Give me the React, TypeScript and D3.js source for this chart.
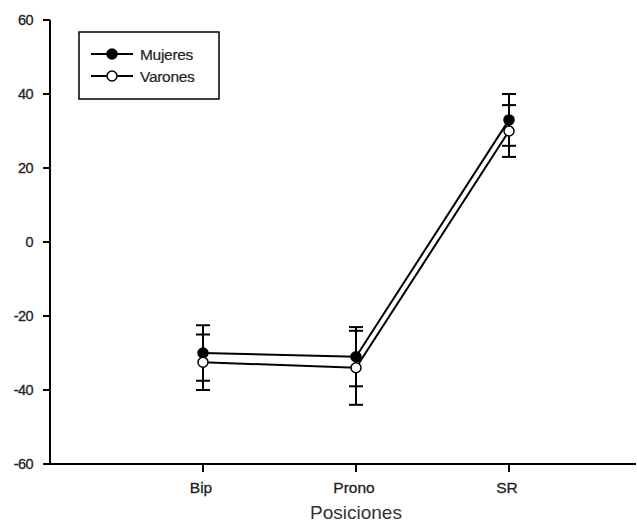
import { scaleLinear, line } from "d3";

const categories = ["Bip", "Prono", "SR"];
const yTicks = [60, 40, 20, 0, -20, -40, -60];

const mujeresMean = [-30, -31, 33];
const mujeresErr = [7.5, 8, 7];
const varonesMean = [-32.5, -34, 30];
const varonesErr = [7.5, 10, 7];

const seriesNames = ["Mujeres", "Varones"];

const W = 637;
const H = 532;
const font = "'Liberation Sans', Arial, sans-serif";

export default function App() {
  const x = scaleLinear().domain([0, 3.83]).range([50, 636]);
  const y = scaleLinear().domain([-60, 60]).range([464, 20]);

  const series = [
    { name: seriesNames[0], mean: mujeresMean, err: mujeresErr, fill: "#000" },
    { name: seriesNames[1], mean: varonesMean, err: varonesErr, fill: "#fff" },
  ];

  const path = line<number>()
    .x((_, i) => x(i + 1))
    .y((d) => y(d));

  return (
    <svg
      width={W}
      height={H}
      style={{ position: "absolute", left: 0, top: 0, background: "#fff" }}
      fontFamily={font}
    >
      {/* y axis */}
      <line x1={50} x2={50} y1={y(60)} y2={y(-60)} stroke="#000" strokeWidth={2} />
      {yTicks.map((t) => (
        <g key={t}>
          <line x1={43} x2={50} y1={y(t)} y2={y(t)} stroke="#000" strokeWidth={2} />
          <text
            x={33}
            y={y(t) + 5}
            textAnchor="end"
            fontSize={14.5}
            letterSpacing={-0.6}
            fill="#222"
            stroke="#222"
            strokeWidth={0.3}
          >
            {t}
          </text>
        </g>
      ))}

      {/* x axis */}
      <line x1={43} x2={636} y1={y(-60)} y2={y(-60)} stroke="#000" strokeWidth={2} />
      {categories.map((c, i) => (
        <g key={c}>
          <line x1={x(i + 1)} x2={x(i + 1)} y1={y(-60)} y2={y(-60) + 8} stroke="#000" strokeWidth={2} />
          <text
            x={x(i + 1) - 2}
            y={493}
            textAnchor="middle"
            fontSize={15.5}
            fill="#222"
            stroke="#222"
            strokeWidth={0.3}
          >
            {c}
          </text>
        </g>
      ))}
      <text x={356} y={519} textAnchor="middle" fontSize={19} fill="#333">
        Posiciones
      </text>

      {/* lines */}
      {series.map((s) => (
        <path key={s.name + "l"} d={path(s.mean) || ""} fill="none" stroke="#000" strokeWidth={2} />
      ))}

      {/* error bars */}
      {series.map((s) =>
        s.mean.map((m, i) => {
          const cx = x(i + 1);
          const hi = y(m + s.err[i]);
          const lo = y(m - s.err[i]);
          return (
            <g key={s.name + i} stroke="#000" strokeWidth={2}>
              <line x1={cx} x2={cx} y1={hi} y2={lo} />
              <line x1={cx - 7} x2={cx + 7} y1={hi} y2={hi} />
              <line x1={cx - 7} x2={cx + 7} y1={lo} y2={lo} />
            </g>
          );
        })
      )}

      {/* markers */}
      {series.map((s) =>
        s.mean.map((m, i) => (
          <circle
            key={s.name + "m" + i}
            cx={x(i + 1)}
            cy={y(m)}
            r={5}
            fill={s.fill}
            stroke="#000"
            strokeWidth={1.5}
          />
        ))
      )}

      {/* legend */}
      <rect x={79} y={32} width={140} height={67} fill="#fff" stroke="#000" strokeWidth={1.5} />
      {series.map((s, i) => {
        const ly = 54 + i * 22;
        return (
          <g key={s.name + "lg"}>
            <line x1={91} x2={133} y1={ly} y2={ly} stroke="#000" strokeWidth={2} />
            <circle cx={112} cy={ly} r={5} fill={s.fill} stroke="#000" strokeWidth={1.5} />
            <text x={140} y={ly + 6} fontSize={15.5} letterSpacing={-0.3} fill="#222" stroke="#222" strokeWidth={0.2}>
              {s.name}
            </text>
          </g>
        );
      })}
    </svg>
  );
}
